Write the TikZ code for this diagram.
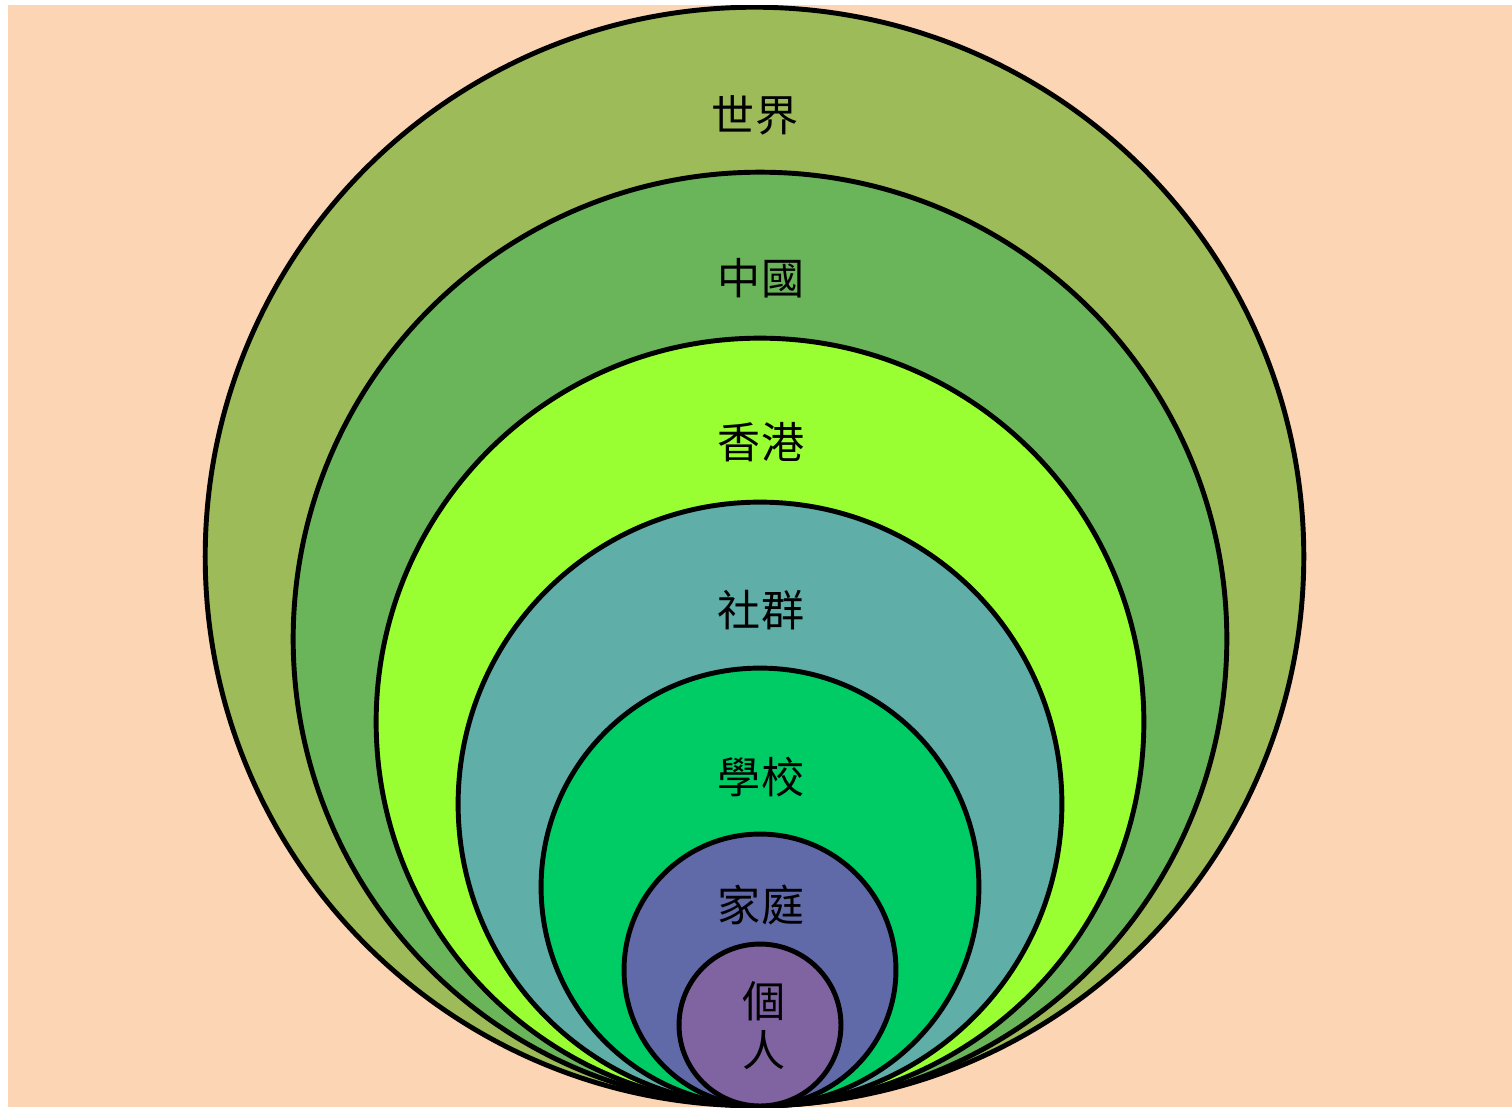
\documentclass[tikz,border=0pt]{standalone}
\usepackage{fontspec}
\newfontfamily\cjk{Noto Sans CJK TC}
\definecolor{bgpeach}{HTML}{FCD5B5}
\definecolor{cworld}{HTML}{9DBB59}
\definecolor{cchina}{HTML}{6AB55A}
\definecolor{chk}{HTML}{99FF33}
\definecolor{ccomm}{HTML}{60AEA8}
\definecolor{cschool}{HTML}{00CC66}
\definecolor{cfamily}{HTML}{616AA8}
\definecolor{cself}{HTML}{8064A2}
\begin{document}
\begin{tikzpicture}[x=0.02cm,y=-0.02cm,
  ring/.style={circle, draw=black, line width=2.8pt, inner sep=0pt, outer sep=0pt, minimum size=#1*0.04cm},
  lbl/.style={font=\cjk\fontsize{24.5}{28}\selectfont, text=black, inner sep=0pt, align=center}]
\useasboundingbox (0,0) rectangle (1512,1107);
\fill[bgpeach] (8,5) rectangle (1512,1107);
\begin{scope}
\clip (8,5) rectangle (1512,1107);
\node[ring=549.5, fill=cworld] (world) at (754.5,556.5) {};
\node[ring=467, fill=cchina] (china) at (760,639) {};
\node[ring=384, fill=chk] (hk) at (760,722) {};
\node[ring=302, fill=ccomm] (comm) at (760,804) {};
\node[ring=219, fill=cschool] (school) at (760,887) {};
\node[ring=136, fill=cfamily] (family) at (760,970) {};
\node[ring=81, fill=cself] (self) at (760,1025) {};
\end{scope}
\node[lbl] (tworld) at (755,115) {世界};
\node[lbl] (tchina) at (761,278) {中國};
\node[lbl] (thk) at (761,442) {香港};
\node[lbl] (tcomm) at (761,610) {社群};
\node[lbl] (tschool) at (761,777) {學校};
\node[lbl] (tfamily) at (761,905) {家庭};
\node[lbl] (tself1) at (764,1001) {個};
\node[lbl] (tself2) at (764,1050) {人};
\end{tikzpicture}
\end{document}
